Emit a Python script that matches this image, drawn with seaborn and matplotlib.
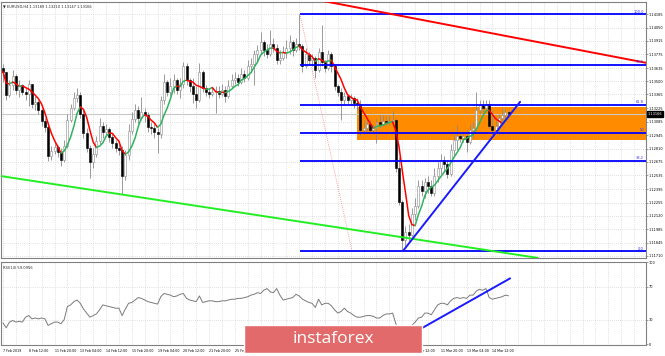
import numpy as np
import pandas as pd
import matplotlib
matplotlib.use('Agg')
import matplotlib.pyplot as plt
from matplotlib.patches import Rectangle
import seaborn as sns

# EURUSD H4 candles, 7 Feb - 15 Mar 2019
first_open = 1.1364
closes = [
    1.1360, 1.1336, 1.1346, 1.1355, 1.1341, 1.1346, 1.1339, 1.1337, 1.1347, 1.1327,
    1.1329, 1.1321, 1.1309, 1.1303, 1.1273, 1.1279, 1.1283, 1.1278, 1.1269, 1.1284,
    1.1310, 1.1323, 1.1333, 1.1336, 1.1317, 1.1297, 1.1282, 1.1267, 1.1276, 1.1289,
    1.1304, 1.1298, 1.1301, 1.1293, 1.1287, 1.1282, 1.1280, 1.1253, 1.1274, 1.1299,
    1.1311, 1.1321, 1.1312, 1.1319, 1.1315, 1.1303, 1.1302, 1.1298, 1.1296, 1.1331,
    1.1349, 1.1339, 1.1345, 1.1351, 1.1341, 1.1347, 1.1366, 1.1351, 1.1345, 1.1337,
    1.1331, 1.1360, 1.1343, 1.1339, 1.1337, 1.1339, 1.1340, 1.1337, 1.1341, 1.1335,
    1.1345, 1.1351, 1.1353, 1.1349, 1.1358, 1.1353, 1.1366, 1.1368, 1.1378, 1.1382,
    1.1390, 1.1382, 1.1378, 1.1388, 1.1384, 1.1372, 1.1374, 1.1380, 1.1384, 1.1390,
    1.1382, 1.1388, 1.1386, 1.1366, 1.1378, 1.1372, 1.1374, 1.1362, 1.1380, 1.1370,
    1.1364, 1.1378, 1.1366, 1.1345, 1.1339, 1.1331, 1.1335, 1.1331, 1.1333, 1.1328,
    1.1327, 1.1300, 1.1302, 1.1306, 1.1300, 1.1302, 1.1308, 1.1306, 1.1309, 1.1308,
    1.1309, 1.1310, 1.1261, 1.1226, 1.1187, 1.1196, 1.1192, 1.1214, 1.1222, 1.1243,
    1.1238, 1.1247, 1.1243, 1.1236, 1.1253, 1.1261, 1.1269, 1.1265, 1.1255, 1.1280,
    1.1290, 1.1294, 1.1292, 1.1294, 1.1288, 1.1300, 1.1302, 1.1321, 1.1326, 1.1323,
    1.1327, 1.1304, 1.1300, 1.1304, 1.1312, 1.1315, 1.13189, 1.13166,
]
highs = [
    1.1368, 1.1351, 1.1351, 1.1362, 1.1358, 1.1351, 1.1347, 1.1343, 1.1351, 1.1347,
    1.1335, 1.1331, 1.1323, 1.1312, 1.1308, 1.1284, 1.1288, 1.1285, 1.1282, 1.1290,
    1.1317, 1.1327, 1.1339, 1.1343, 1.1339, 1.1321, 1.1302, 1.1285, 1.1282, 1.1294,
    1.1312, 1.1308, 1.1306, 1.1303, 1.1296, 1.1290, 1.1286, 1.1284, 1.1280, 1.1306,
    1.1319, 1.1327, 1.1325, 1.1334, 1.1323, 1.1319, 1.1308, 1.1306, 1.1302, 1.1335,
    1.1357, 1.1351, 1.1353, 1.1358, 1.1353, 1.1353, 1.1370, 1.1369, 1.1353, 1.1353,
    1.1345, 1.1369, 1.1362, 1.1346, 1.1343, 1.1343, 1.1345, 1.1345, 1.1347, 1.1345,
    1.1351, 1.1358, 1.1360, 1.1358, 1.1364, 1.1362, 1.1372, 1.1374, 1.1382, 1.1387,
    1.1401, 1.1392, 1.1388, 1.1403, 1.1394, 1.1388, 1.1382, 1.1386, 1.1392, 1.1397,
    1.1392, 1.1394, 1.1419, 1.1388, 1.1384, 1.1380, 1.1378, 1.1376, 1.1384, 1.1408,
    1.1372, 1.1382, 1.1380, 1.1368, 1.1347, 1.1343, 1.1339, 1.1337, 1.1337, 1.1335,
    1.1333, 1.1331, 1.1310, 1.1312, 1.1310, 1.1306, 1.1312, 1.1315, 1.1315, 1.1314,
    1.1315, 1.1321, 1.1312, 1.1272, 1.1228, 1.1202, 1.1204, 1.1220, 1.1230, 1.1249,
    1.1249, 1.1251, 1.1253, 1.1249, 1.1261, 1.1267, 1.1275, 1.1273, 1.1269, 1.1286,
    1.1296, 1.1305, 1.1298, 1.1298, 1.1300, 1.1306, 1.1308, 1.1339, 1.1331, 1.1331,
    1.1331, 1.1331, 1.1321, 1.1310, 1.1317, 1.1323, 1.1323, 1.13210,
]
lows = [
    1.1349, 1.1331, 1.1334, 1.1341, 1.1337, 1.1334, 1.1336, 1.1331, 1.1325, 1.1323,
    1.1321, 1.1317, 1.1304, 1.1298, 1.1268, 1.1269, 1.1275, 1.1272, 1.1263, 1.1267,
    1.1282, 1.1308, 1.1321, 1.1329, 1.1312, 1.1292, 1.1278, 1.1251, 1.1261, 1.1272,
    1.1286, 1.1292, 1.1294, 1.1288, 1.1282, 1.1278, 1.1274, 1.1235, 1.1249, 1.1269,
    1.1296, 1.1308, 1.1306, 1.1310, 1.1308, 1.1298, 1.1296, 1.1292, 1.1277, 1.1292,
    1.1327, 1.1335, 1.1336, 1.1338, 1.1337, 1.1333, 1.1343, 1.1346, 1.1339, 1.1328,
    1.1323, 1.1329, 1.1339, 1.1335, 1.1333, 1.1335, 1.1318, 1.1333, 1.1335, 1.1329,
    1.1333, 1.1343, 1.1347, 1.1345, 1.1347, 1.1349, 1.1351, 1.1360, 1.1346, 1.1370,
    1.1378, 1.1376, 1.1374, 1.1376, 1.1380, 1.1368, 1.1368, 1.1372, 1.1374, 1.1378,
    1.1376, 1.1380, 1.1382, 1.1360, 1.1364, 1.1368, 1.1366, 1.1353, 1.1360, 1.1366,
    1.1360, 1.1362, 1.1360, 1.1341, 1.1335, 1.1310, 1.1327, 1.1327, 1.1327, 1.1323,
    1.1321, 1.1294, 1.1296, 1.1298, 1.1296, 1.1296, 1.1287, 1.1302, 1.1304, 1.1305,
    1.1305, 1.1306, 1.1257, 1.1223, 1.1177, 1.1181, 1.1185, 1.1190, 1.1208, 1.1220,
    1.1232, 1.1230, 1.1236, 1.1232, 1.1232, 1.1247, 1.1255, 1.1257, 1.1251, 1.1253,
    1.1272, 1.1280, 1.1288, 1.1288, 1.1278, 1.1286, 1.1292, 1.1300, 1.1317, 1.1319,
    1.1321, 1.1302, 1.1296, 1.1298, 1.1295, 1.1308, 1.1310, 1.13147,
]
rsi_values = [
    26, 20, 27, 29, 27, 28, 27, 33, 35, 31,
    32, 31, 32, 31, 23, 25, 27, 27, 25, 30,
    46, 48, 52, 54, 50, 43, 38, 33, 35, 37,
    42, 48, 47, 46, 45, 44, 44, 35, 43, 50,
    51, 54, 57, 56, 54, 52, 51, 50, 49, 58,
    62, 61, 60, 58, 59, 61, 62, 56, 54, 53,
    52, 59, 51, 52, 53, 53, 52, 52, 53, 53,
    54, 55, 55, 56, 56, 57, 58, 60, 61, 63,
    62, 66, 68, 64, 63, 68, 60, 54, 55, 56,
    57, 61, 59, 55, 53, 51, 50, 45, 55, 48,
    50, 50, 47, 42, 38, 40, 44, 40, 38, 35,
    33, 33, 34, 35, 35, 34, 32, 32, 35, 37,
    37, 38, 25, 18, 12, 16, 15, 23, 27, 32,
    33, 38, 38, 36, 42, 48, 50, 50, 48, 53,
    56, 57, 56, 57, 56, 60, 60, 65, 67, 66,
    68, 57, 55, 56, 57, 58, 60, 59.0956,
]

price_ticks = [1.14185, 1.14050, 1.13915, 1.13775, 1.13635, 1.13500, 1.13365,
               1.13225, 1.13085, 1.12945, 1.12810, 1.12675, 1.12535, 1.12395,
               1.12255, 1.12120, 1.11985, 1.11845, 1.11710]
date_labels = ["7 Feb 2019", "8 Feb 12:00", "11 Feb 20:00", "13 Feb 04:00",
               "14 Feb 12:00", "15 Feb 20:00", "19 Feb 04:00", "20 Feb 12:00",
               "21 Feb 20:00", "25 Feb 04:00", "26 Feb 12:00", "27 Feb 20:00",
               "1 Mar 04:00", "4 Mar 12:00", "5 Mar 20:00", "7 Mar 04:00",
               "8 Mar 12:00", "11 Mar 20:00", "13 Mar 04:00", "14 Mar 12:00"]
rsi_ticks = [0, 30, 70, 100]

# fibonacci retracement from the 28 Feb high to the 7 Mar low
fib_high = 1.1419
fib_low = 1.1176
fib_start_bar = 92.2
fib_end_bar = 108.4
fib_levels = [0.0, 38.2, 50.0, 61.8, 78.6, 100.0]
fib_names = ["0.0", "38.2", "50", "61.8", "78.6", "100.0"]

# hand drawn objects (bar index, price)
red_trend_x = [98.4, 199.7]
red_trend_y = [1.1433, 1.1369]
green_trend_x = [-0.9, 166.1]
green_trend_y = [1.1253, 1.1169]
blue_trend_x = [124.2, 160.6]
blue_trend_y = [1.1176, 1.1329]
rsi_trend_x = [126.0, 157.5]
rsi_trend_y = [10.5, 80.5]
box_start = 109.9
box_lo, box_hi = 1.1290, 1.1324
last_price = 1.13166

XMIN, XMAX = -0.62, 199.7
W, H = 665, 356

sns.set_style('white')
plt.rcParams['font.family'] = ['DejaVu Sans']

fig = plt.figure(figsize=(6.65, 3.56), dpi=100)
ax = fig.add_axes([1 / W, 1 - 258 / H, 645 / W, 256 / H])
ax_rsi = fig.add_axes([1 / W, 1 - 345 / H, 645 / W, 83 / H])

n = len(closes)
df = pd.DataFrame({'bar': np.arange(n), 'open': [first_open] + closes[:-1],
                   'high': highs, 'low': lows, 'close': closes, 'rsi': rsi_values})
df['up'] = df['close'] >= df['open']
df['ma'] = df['close'].rolling(5, min_periods=1).mean()

grid_kw = dict(color='#c4c4c4', linestyle=(0, (1, 2)), linewidth=0.5)
for a in (ax, ax_rsi):
    a.set_xlim(XMIN, XMAX)
    a.set_xticks(np.arange(0, 153, 8))
    a.set_xticks(np.arange(0, 200, 4), minor=True)
    a.grid(True, which='both', axis='x', **grid_kw)
    a.grid(True, which='major', axis='y', **grid_kw)
    a.set_axisbelow(True)
    for s in a.spines.values():
        s.set_color('#808080')
        s.set_linewidth(0.8)
    a.yaxis.tick_right()
    a.tick_params(axis='y', which='both', length=1.2, width=0.5, pad=0.6,
                  labelsize=2.5, colors='#808080', labelcolor='black')

# main price pane
ax.set_ylim(1.11689, 1.14313)
ax.set_yticks(price_ticks)
ax.set_yticklabels([f'{p:.5f}' for p in price_ticks])
ax.tick_params(axis='x', which='both', length=0, labelbottom=False)

ax.add_patch(Rectangle((box_start, box_lo), XMAX - box_start + 1, box_hi - box_lo,
                       facecolor='#ff8c00', edgecolor='none', zorder=1))
ax.axhline(last_price, color='#c8c8c8', lw=0.8, zorder=1.5)

top = df[['high', 'open', 'close']].max(axis=1)
bot = df[['low', 'open', 'close']].min(axis=1)
ax.vlines(df['bar'], bot, top, color='#8a8a8a', lw=0.6, zorder=3)
body_lo = df[['open', 'close']].min(axis=1)
body_h = (df['close'] - df['open']).abs().clip(lower=0.00004)
ax.bar(df['bar'], body_h, bottom=body_lo, width=0.62,
       color=np.where(df['up'], 'white', 'black'),
       edgecolor=np.where(df['up'], '#8a8a8a', 'black'), linewidth=0.4, zorder=4)

# moving average, red while falling, green while rising
rising = (df['ma'].diff() >= 0).tolist()
run_start = 1
for i in range(2, n + 1):
    if i == n or rising[i] != rising[run_start]:
        seg = df.iloc[run_start - 1:i]
        col = '#2fb35f' if rising[run_start] else '#ff0000'
        sns.lineplot(x=seg['bar'], y=seg['ma'], ax=ax, color=col, lw=1.1,
                     sort=False, zorder=5)
        run_start = i

for lvl, name in zip(fib_levels, fib_names):
    price = fib_low + (fib_high - fib_low) * lvl / 100
    ax.hlines(price, fib_start_bar, XMAX, color='#0000ff', lw=1.3, zorder=6)
    ax.text(XMAX - 0.6, price + 0.00005, name, ha='right', va='bottom',
            fontsize=2.6, color='#3030ff', zorder=7)
ax.plot([fib_start_bar, fib_end_bar], [fib_high, fib_low], color='#ff7f7f',
        lw=0.6, ls=(0, (1, 1.5)), zorder=5)

ax.plot(red_trend_x, red_trend_y, color='#ff0000', lw=1.4, zorder=6)
ax.plot(green_trend_x, green_trend_y, color='#22ee22', lw=1.4, zorder=6)
ax.plot(blue_trend_x, blue_trend_y, color='#1a1aff', lw=1.4, zorder=6)

ax.text(0.003, 0.992, '\u25bc EURUSD,H4 1.13189 1.13210 1.13147 1.13166',
        transform=ax.transAxes, fontsize=2.6, va='top', ha='left')
ax.text(1.002, last_price, f'{last_price:.5f}', transform=ax.get_yaxis_transform(),
        fontsize=2.5, color='white', va='center', ha='left', clip_on=False,
        bbox=dict(boxstyle='square,pad=0.2', facecolor='black', edgecolor='black'))

# RSI pane
ax_rsi.set_ylim(-1, 100.5)
ax_rsi.set_yticks(rsi_ticks)
ax_rsi.set_yticklabels([str(t) for t in rsi_ticks])
ax_rsi.grid(False, axis='y')
for lvl in (30, 70):
    ax_rsi.axhline(lvl, zorder=0, **grid_kw)
sns.lineplot(data=df, x='bar', y='rsi', ax=ax_rsi, color='#7a7a7a', lw=0.7, zorder=3)
ax_rsi.plot(rsi_trend_x, rsi_trend_y, color='#1a1aff', lw=1.4, zorder=4)
ax_rsi.set_xticklabels(date_labels, ha='left')
ax_rsi.tick_params(axis='x', which='major', length=1.5, width=0.5, pad=1.2,
                   labelsize=2.3, colors='#808080', labelcolor='black')
ax_rsi.tick_params(axis='x', which='minor', length=0)
ax_rsi.set_xlabel('')
ax_rsi.set_ylabel('')
ax.set_xlabel('')
ax.set_ylabel('')
ax_rsi.text(0.003, 0.95, 'RSI(14) 59.0956', transform=ax_rsi.transAxes,
            fontsize=2.6, va='top', ha='left')

# watermark
fig.patches.append(Rectangle((244 / W, 1 - 353 / H), 178 / W, 28 / H,
                             transform=fig.transFigure, facecolor='#e36a6a',
                             edgecolor='white', lw=1, zorder=10))
fig.text(333 / W, 1 - 339 / H, 'instaforex', color='white', fontsize=12.5,
         family=['Open Sans', 'DejaVu Sans'], ha='center', va='center', zorder=11)

fig.savefig('out.png', dpi=100, facecolor='white')
